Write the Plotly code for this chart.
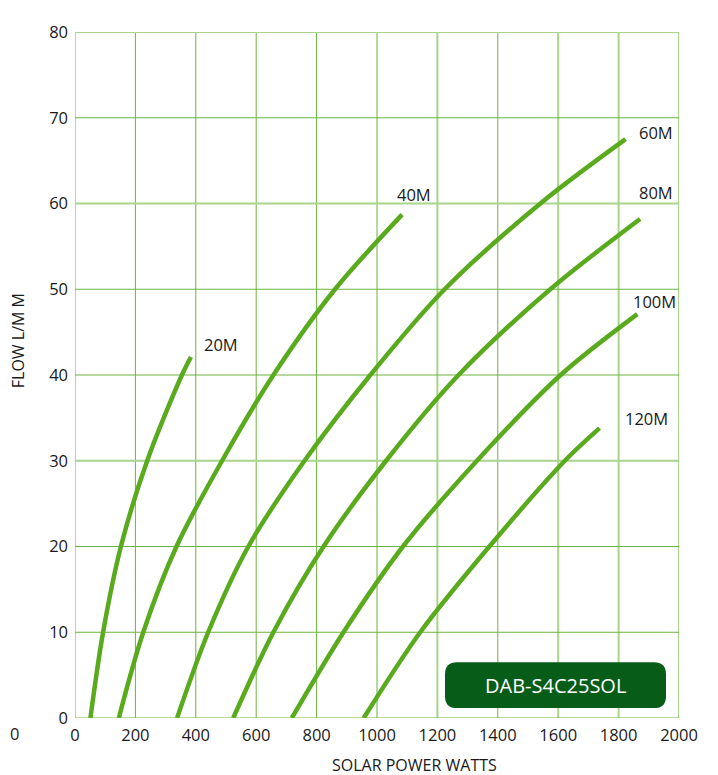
import plotly.graph_objects as go

# Pump curves: solar power (W) vs flow (L/min) at different heads
head_labels = ["20M", "40M", "60M", "80M", "100M", "120M"]

power_20 = [51, 93, 152, 239, 354, 384]
flow_20 = [0, 10, 20, 30, 40, 42.1]

power_40 = [145, 226, 336, 487, 657, 861, 1083]
flow_40 = [0, 10, 20, 30, 40, 50, 58.7]

power_60 = [338, 441, 574, 760, 978, 1224, 1541, 1823]
flow_60 = [0, 10, 20, 30, 40, 50, 60, 67.5]

power_80 = [524, 657, 823, 1030, 1270, 1574, 1871]
flow_80 = [0, 10, 20, 30, 40, 50, 58.2]

power_100 = [718, 889, 1086, 1331, 1608, 1862]
flow_100 = [0, 10, 20, 30, 40, 47.1]

power_120 = [956, 1143, 1372, 1622, 1737]
flow_120 = [0, 10, 20, 30, 33.8]

label_x = [483, 1123, 1923, 1923, 1919, 1891]
label_y = [43.5, 61.0, 68.3, 61.3, 48.6, 34.9]

x_ticks = [0, 200, 400, 600, 800, 1000, 1200, 1400, 1600, 1800, 2000]
y_ticks = [0, 10, 20, 30, 40, 50, 60, 70, 80]
x_light_grid = [1200, 1600, 1800, 2000]
y_light_grid = [30, 60, 80]

model_name = "DAB-S4C25SOL"

LINE = "#5aaa1e"
GRID = "#6cb43c"
GRID_LIGHT = "#a9d48b"
FONT = "Open Sans"
TXT = "#1a1a1a"

# figure is placed at an 8px page offset; plot area spans page x 75..679, y 28..718
W, H = 710, 767
ML, MT = 67, 20
PW, PH = 604, 690


def px(page_x):
    return (page_x - 8 - ML) / PW


def py(page_y):
    return 1 - (page_y - 8 - MT) / PH


series = [
    (power_20, flow_20), (power_40, flow_40), (power_60, flow_60),
    (power_80, flow_80), (power_100, flow_100), (power_120, flow_120),
]

fig = go.Figure()

# grid lines (some render lighter in the original)
for gx in x_ticks:
    light = gx in x_light_grid
    fig.add_shape(type="line", xref="x", yref="paper", x0=gx, x1=gx, y0=0, y1=1,
                  line=dict(color=GRID_LIGHT if light else GRID, width=2 if light else 1),
                  layer="below")
for gy in y_ticks:
    light = gy in y_light_grid
    fig.add_shape(type="line", xref="paper", yref="y", x0=0, x1=1, y0=gy, y1=gy,
                  line=dict(color=GRID_LIGHT if light else GRID, width=2 if light else 1),
                  layer="below")

for (xs, ys), name in zip(series, head_labels):
    fig.add_trace(go.Scatter(
        x=xs, y=ys, mode="lines", name=name,
        line=dict(color=LINE, width=4.5, shape="spline", smoothing=0.9),
        showlegend=False, hoverinfo="skip",
    ))

for name, lx, ly in zip(head_labels, label_x, label_y):
    fig.add_annotation(x=lx, y=ly, text=name, showarrow=False,
                       xanchor="center", yanchor="middle",
                       font=dict(family=FONT, size=16.5, color=TXT))

# Model badge (rounded rectangle in paper coords)
x0, x1 = px(445), px(666)
y0, y1 = py(708), py(662)
rx, ry = 12 / PW, 12 / PH
path = (f"M {x0+rx},{y0} L {x1-rx},{y0} Q {x1},{y0} {x1},{y0+ry} "
        f"L {x1},{y1-ry} Q {x1},{y1} {x1-rx},{y1} L {x0+rx},{y1} "
        f"Q {x0},{y1} {x0},{y1-ry} L {x0},{y0+ry} Q {x0},{y0} {x0+rx},{y0} Z")
fig.add_shape(type="path", path=path, xref="paper", yref="paper",
              fillcolor="#075c17", line=dict(width=0), layer="above")
fig.add_annotation(x=(x0 + x1) / 2, y=(y0 + y1) / 2, xref="paper", yref="paper",
                   text=model_name, showarrow=False,
                   xanchor="center", yanchor="middle",
                   font=dict(family=FONT, size=20, color="white"))

# Axis titles
fig.add_annotation(x=px(414), y=py(765), xref="paper", yref="paper",
                   text="SOLAR POWER WATTS", showarrow=False,
                   xanchor="center", yanchor="middle",
                   font=dict(family=FONT, size=16, color=TXT))
fig.add_annotation(x=px(18), y=py(339), xref="paper", yref="paper",
                   text="FLOW L/M M", showarrow=False, textangle=-90,
                   xanchor="center", yanchor="middle",
                   font=dict(family=FONT, size=16, color=TXT))
# stray zero at far left of the x tick row
fig.add_annotation(x=px(8), y=py(734), xref="paper", yref="paper",
                   text="0", showarrow=False, xanchor="left", yanchor="middle",
                   font=dict(family=FONT, size=16.5, color=TXT))

fig.update_xaxes(range=[0, 2000], tickvals=x_ticks, ticktext=[str(v) for v in x_ticks],
                 showgrid=False, zeroline=False, showline=False,
                 ticks="", ticklabelstandoff=5,
                 tickfont=dict(family=FONT, size=16.5, color=TXT))
fig.update_yaxes(range=[0, 80], tickvals=y_ticks, ticktext=[str(v) for v in y_ticks],
                 showgrid=False, zeroline=False, showline=False,
                 ticks="", ticklabelstandoff=6,
                 tickfont=dict(family=FONT, size=16.5, color=TXT))

fig.update_layout(
    width=W, height=H,
    margin=dict(l=ML, r=W - ML - PW, t=MT, b=H - MT - PH),
    plot_bgcolor="white", paper_bgcolor="white",
    showlegend=False,
)

fig.write_html("out.html")
